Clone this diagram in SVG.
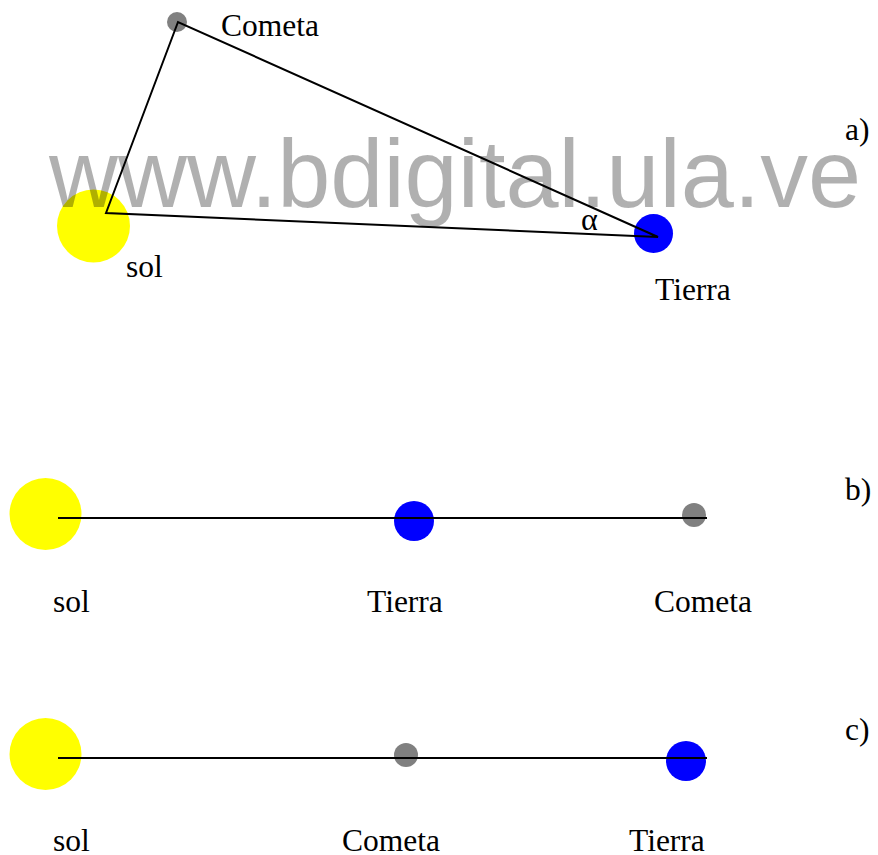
<svg xmlns="http://www.w3.org/2000/svg" width="878" height="855" viewBox="0 0 878 855">
<style>
.lbl{font-family:"Liberation Serif","Times New Roman",serif;font-size:31.5px;fill:#000}
.sun{fill:#ffff00}
.earth{fill:#0000ff}
.comet{fill:#808080}
.ln{stroke:#000;stroke-width:2;fill:none;stroke-linejoin:miter}
.wm{font-family:"Liberation Sans",Arial,sans-serif;font-size:95.5px;fill:#000;fill-opacity:0.31}
</style>
<rect width="878" height="855" fill="#fff"/>
<g id="panel-a">
<g id="a-sol"><circle class="sun" cx="93.5" cy="226" r="36.5"/><text class="lbl" x="126" y="277">sol</text></g>
<g id="a-cometa"><circle class="comet" cx="177" cy="22" r="10"/><text class="lbl" x="221" y="36">Cometa</text></g>
<g id="a-tierra"><circle class="earth" cx="653.5" cy="233.5" r="19.5"/><text class="lbl" x="655" y="300">Tierra</text></g>
<text class="lbl" x="845" y="140">a)</text>
</g>
<g id="panel-b">
<g id="b-sol"><circle class="sun" cx="45.5" cy="514" r="36"/><text class="lbl" x="53" y="612">sol</text></g>
<g id="b-tierra"><circle class="earth" cx="414" cy="521" r="20"/><text class="lbl" x="367" y="612">Tierra</text></g>
<g id="b-cometa"><circle class="comet" cx="694" cy="515" r="12"/><text class="lbl" x="654" y="612">Cometa</text></g>
<text class="lbl" x="845" y="500">b)</text>
</g>
<g id="panel-c">
<g id="c-sol"><circle class="sun" cx="45.5" cy="754" r="36"/><text class="lbl" x="53" y="851">sol</text></g>
<g id="c-cometa"><circle class="comet" cx="406" cy="755" r="12"/><text class="lbl" x="342" y="851">Cometa</text></g>
<g id="c-tierra"><circle class="earth" cx="686" cy="761" r="20"/><text class="lbl" x="629" y="851">Tierra</text></g>
<text class="lbl" x="845" y="740">c)</text>
</g>
<g id="connectors">
<polygon class="ln" points="106,213 178,22 658,237"/>
<line class="ln" x1="58" y1="518" x2="707" y2="518"/>
<line class="ln" x1="58" y1="758" x2="707" y2="758"/>
</g>
<text x="581" y="230" style="font-family:'Liberation Serif','Times New Roman',serif;font-size:32px;fill:#000">α</text>
<text class="wm" x="49" y="207">www.bdigital.ula.ve</text>
</svg>
